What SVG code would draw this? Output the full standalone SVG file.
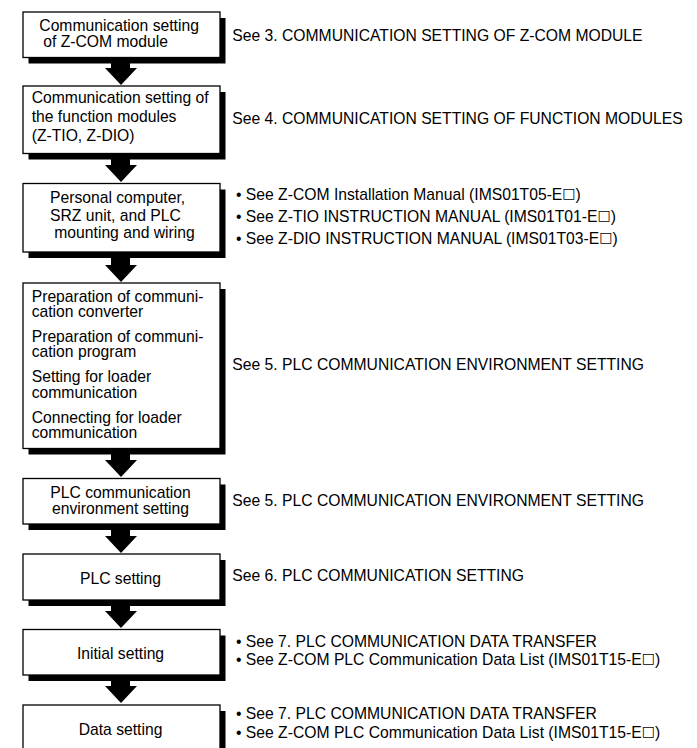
<svg xmlns="http://www.w3.org/2000/svg" width="697" height="748" viewBox="0 0 697 748">
<style>
text { font-family: "Liberation Sans", Arial, sans-serif; font-size: 15.7px; fill: #000; }
.sq { font-family: "DejaVu Sans", sans-serif; font-size: 14px; }
.box { fill: #fff; stroke: #000; stroke-width: 1.3; }
.shadow { fill: #000; }
.mid { text-anchor: middle; }
.arrow { fill: #000; }
</style>
<rect width="697" height="748" fill="#fff"/>
<g id="connectors">
  <polygon class="arrow" points="111,57 130,57 130,68 137,68 121,85 105,68 111,68"/>
  <polygon class="arrow" points="111,153 130,153 130,165 137,165 121,182 105,165 111,165"/>
  <polygon class="arrow" points="111,252 130,252 130,265 137,265 121,282 105,265 111,265"/>
  <polygon class="arrow" points="111,448 130,448 130,460 137,460 121,477 105,460 111,460"/>
  <polygon class="arrow" points="111,524 130,524 130,536 137,536 121,553 105,536 111,536"/>
  <polygon class="arrow" points="111,600 130,600 130,611 137,611 121,628 105,611 111,611"/>
  <polygon class="arrow" points="111,675 130,675 130,686 137,686 121,703 105,686 111,686"/>
</g>
<g id="node1">
  <rect class="shadow" x="28.5" y="18" width="197" height="45.5"/>
  <rect class="box" x="23" y="12" width="197" height="45.5"/>
  <text><tspan x="39.3" y="30.7">Communication setting</tspan><tspan x="43.3" y="47">of Z-COM module</tspan></text>
  <text x="232.3" y="40.7">See 3. COMMUNICATION SETTING OF Z-COM MODULE</text>
</g>
<g id="node2">
  <rect class="shadow" x="28.5" y="92" width="197" height="67.5"/>
  <rect class="box" x="23" y="86" width="197" height="67.5"/>
  <text><tspan x="31.7" y="102.7">Communication setting of</tspan><tspan x="31.7" y="121.5">the function modules</tspan><tspan x="31.7" y="141">(Z-TIO, Z-DIO)</tspan></text>
  <text x="232.3" y="124">See 4. COMMUNICATION SETTING OF FUNCTION MODULES</text>
</g>
<g id="node3">
  <rect class="shadow" x="28.5" y="189.5" width="197" height="68.5"/>
  <rect class="box" x="23" y="183.5" width="197" height="68.5"/>
  <text><tspan x="50" y="202.7">Personal computer,</tspan><tspan x="50" y="220.7">SRZ unit, and PLC</tspan><tspan x="54.3" y="238">mounting and wiring</tspan></text>
  <text x="236" y="199.5">• See Z-COM Installation Manual (IMS01T05-E<tspan class="sq" dy="-2">□</tspan><tspan dy="2">)</tspan></text>
  <text x="236" y="221.5">• See Z-TIO INSTRUCTION MANUAL (IMS01T01-E<tspan class="sq" dy="-2">□</tspan><tspan dy="2">)</tspan></text>
  <text x="236" y="243.5">• See Z-DIO INSTRUCTION MANUAL (IMS01T03-E<tspan class="sq" dy="-2">□</tspan><tspan dy="2">)</tspan></text>
</g>
<g id="node4">
  <rect class="shadow" x="28.5" y="289" width="197" height="165.5"/>
  <rect class="box" x="23" y="283" width="197" height="165.5"/>
  <text><tspan x="31.7" y="301.5">Preparation of communi-</tspan><tspan x="31.7" y="316.5">cation converter</tspan><tspan x="31.7" y="342">Preparation of communi-</tspan><tspan x="31.7" y="357">cation program</tspan><tspan x="31.7" y="382.3">Setting for loader</tspan><tspan x="31.7" y="397.5">communication</tspan><tspan x="31.7" y="422.7">Connecting for loader</tspan><tspan x="31.7" y="438">communication</tspan></text>
  <text x="232.3" y="370">See 5. PLC COMMUNICATION ENVIRONMENT SETTING</text>
</g>
<g id="node5">
  <rect class="shadow" x="28.5" y="484.5" width="197" height="45.5"/>
  <rect class="box" x="23" y="478.5" width="197" height="45.5"/>
  <text class="mid"><tspan x="120.5" y="498.3">PLC communication</tspan><tspan x="120.5" y="513.5">environment setting</tspan></text>
  <text x="232.3" y="506">See 5. PLC COMMUNICATION ENVIRONMENT SETTING</text>
</g>
<g id="node6">
  <rect class="shadow" x="28.5" y="560" width="197" height="46"/>
  <rect class="box" x="23" y="554" width="197" height="46"/>
  <text class="mid" x="120.5" y="584">PLC setting</text>
  <text x="232.3" y="581">See 6. PLC COMMUNICATION SETTING</text>
</g>
<g id="node7">
  <rect class="shadow" x="28.5" y="635.5" width="197" height="45.5"/>
  <rect class="box" x="23" y="629.5" width="197" height="45.5"/>
  <text class="mid" x="120.5" y="659.3">Initial setting</text>
  <text><tspan x="236" y="646.7">• See 7. PLC COMMUNICATION DATA TRANSFER</tspan><tspan x="236" y="665">• See Z-COM PLC Communication Data List (IMS01T15-E<tspan class="sq" dy="-2">□</tspan><tspan dy="2">)</tspan></tspan></text>
</g>
<g id="node8">
  <rect class="shadow" x="28.5" y="711" width="197" height="46"/>
  <rect class="box" x="23" y="705" width="197" height="46"/>
  <text class="mid" x="120.5" y="735">Data setting</text>
  <text><tspan x="236" y="719.3">• See 7. PLC COMMUNICATION DATA TRANSFER</tspan><tspan x="236" y="737.7">• See Z-COM PLC Communication Data List (IMS01T15-E<tspan class="sq" dy="-2">□</tspan><tspan dy="2">)</tspan></tspan></text>
</g>
</svg>
